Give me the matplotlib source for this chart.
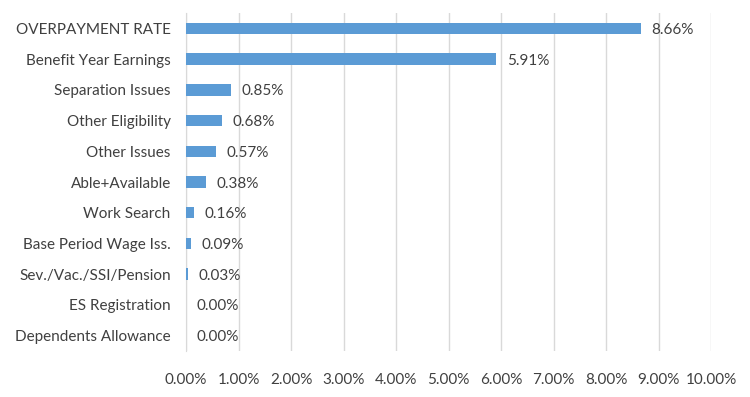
import matplotlib
matplotlib.use('Agg')
import matplotlib.pyplot as plt
from matplotlib.ticker import FuncFormatter

categories = ["OVERPAYMENT RATE", "Benefit Year Earnings", "Separation Issues",
              "Other Eligibility", "Other Issues", "Able+Available", "Work Search",
              "Base Period Wage Iss.", "Sev./Vac./SSI/Pension", "ES Registration",
              "Dependents Allowance"]
rates = [8.66, 5.91, 0.85, 0.68, 0.57, 0.38, 0.16, 0.09, 0.03, 0.00, 0.00]
xticks = [0, 1, 2, 3, 4, 5, 6, 7, 8, 9, 10]

plt.rcParams['font.family'] = ['Lato', 'DejaVu Sans']
text_color = '#404040'

fig = plt.figure(figsize=(7.5, 3.97), dpi=100)
ax = fig.add_axes([0.248, 0.116, 0.7, 0.851])

y = list(range(len(categories)))
bars = ax.barh(y, rates, height=0.37, color='#5B9BD5', zorder=3)
for bar, val in zip(bars, rates):
    ax.text(bar.get_width() + 0.2, bar.get_y() + bar.get_height() / 2 + 0.05,
            f"{val:.2f}%", va='center', ha='left', fontsize=11, color=text_color)

ax.set_ylim(len(categories) - 0.5, -0.5)
ax.set_xlim(0, 10)
ax.set_yticks(y)
ax.set_yticklabels(categories, fontsize=11, color=text_color)
ax.set_xticks(xticks)
ax.xaxis.set_major_formatter(FuncFormatter(lambda v, p: f"{v:.2f}%"))
ax.tick_params(axis='x', length=0, pad=16, labelsize=11, labelcolor=text_color)
ax.tick_params(axis='y', length=0, pad=11)
ax.grid(axis='x', color='#D9D9D9', linewidth=1, zorder=0)
for s in ['top', 'right', 'bottom']:
    ax.spines[s].set_visible(False)
ax.spines['left'].set_color('#D9D9D9')

plt.savefig("out.png", dpi=100)
